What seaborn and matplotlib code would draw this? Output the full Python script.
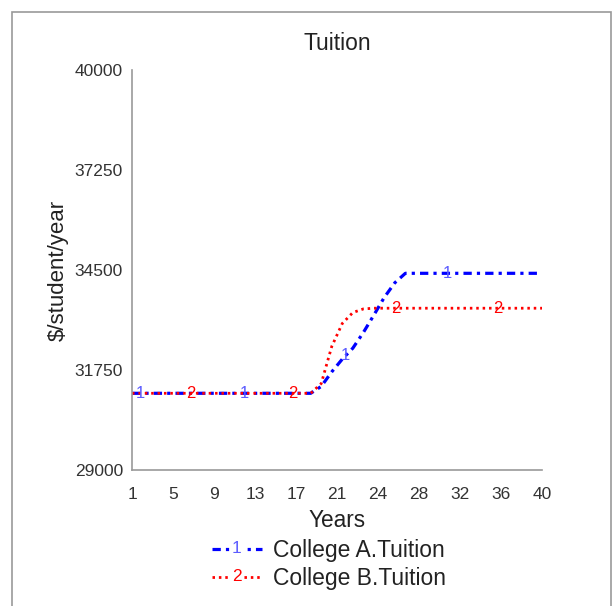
"""Tuition comparison of two colleges."""
import numpy as np
import pandas as pd
import matplotlib
matplotlib.use('Agg')
import matplotlib.pyplot as plt
from matplotlib.lines import Line2D
from matplotlib.patches import Rectangle
from matplotlib.text import Text
from matplotlib.legend_handler import HandlerLine2D
import seaborn as sns

years = list(range(1, 41))
college_a = [31110] * 18 + [31300, 31700, 32050, 32350, 32780, 33260, 33750,
                            34150, 34410] + [34410] * 13
college_b = [31110] * 18 + [31380, 32400, 33030, 33330, 33430, 33450] + [33450] * 16
a_label_years = [1.8, 11.7, 21.3, 31.0]
b_label_years = [6.6, 16.3, 26.1, 35.8]
x_ticks = np.linspace(1, 40, 11)
x_tick_labels = ['1', '5', '9', '13', '17', '21', '24', '28', '32', '36', '40']
y_ticks = [29000, 31750, 34500, 37250, 40000]

sns.set_theme(style='white')
plt.rcParams['font.family'] = ['Liberation Sans', 'DejaVu Sans']

df = pd.DataFrame({'year': years, 'a': college_a, 'b': college_b})

fig = plt.figure(figsize=(6.12, 6.06), dpi=100)
ax = fig.add_axes([0.2157, 0.2244, 0.67, 0.66])

blue, red = '#0000ff', '#ff0000'
ls_a = (0, (2.6, 1.6, 1.0, 1.6))
ls_b = (0, (0.9, 1.4))
sns.lineplot(data=df, x='year', y='a', color=blue, linewidth=2.3,
             linestyle=ls_a, ax=ax)
sns.lineplot(data=df, x='year', y='b', color=red, linewidth=2.0,
             linestyle=ls_b, ax=ax)

for yr in a_label_years:
    ax.text(yr, np.interp(yr, years, college_a), '1', color='#5c5cff',
            fontsize=12, ha='center', va='center')
for yr in b_label_years:
    ax.text(yr, np.interp(yr, years, college_b), '2', color=red,
            fontsize=12, ha='center', va='center')

ax.set_xlim(1, 40)
ax.set_ylim(29000, 40000)
ax.set_xticks(x_ticks)
ax.set_xticklabels(x_tick_labels)
ax.set_yticks(y_ticks)
ax.tick_params(axis='both', length=0, labelsize=12.5, colors='#333333')
ax.tick_params(axis='x', pad=12)
ax.tick_params(axis='y', pad=6.5)
for s in ['top', 'right']:
    ax.spines[s].set_visible(False)
for s in ['left', 'bottom']:
    ax.spines[s].set_color('#999999')
    ax.spines[s].set_linewidth(1.2)

ax.set_title('Tuition', fontsize=16.5, color='#222222', pad=14.4)
ax.set_xlabel('Years', fontsize=16.3, color='#222222', labelpad=5)
ax.set_ylabel('$/student/year', fontsize=16, color='#222222', labelpad=4)


class DigitHandler(HandlerLine2D):
    def __init__(self, digit, color, **kw):
        super().__init__(**kw)
        self.digit = digit
        self.color = color

    def create_artists(self, legend, orig_handle, xdescent, ydescent,
                       width, height, fontsize, trans):
        arts = super().create_artists(legend, orig_handle, xdescent, ydescent,
                                      width, height, fontsize, trans)
        t = Text(width / 2 - xdescent, height / 2 - ydescent, self.digit,
                 color=self.color, ha='center', va='center',
                 fontsize=fontsize * 0.75, transform=trans,
                 bbox=dict(fc='white', ec='none', pad=1))
        return list(arts) + [t]


h_a = Line2D([], [], color=blue, linewidth=2.3, linestyle=ls_a)
h_b = Line2D([], [], color=red, linewidth=2.0, linestyle=ls_b)
leg = fig.legend([h_a, h_b], ['College A.Tuition', 'College B.Tuition'],
                 loc='upper center', bbox_to_anchor=(0.537, 1 - 539 / 606),
                 frameon=False, fontsize=16.5, handlelength=2.2,
                 handletextpad=0.45, labelspacing=0.2, borderaxespad=0,
                 borderpad=0,
                 handler_map={h_a: DigitHandler('1', '#5c5cff'),
                              h_b: DigitHandler('2', red)})
for t in leg.get_texts():
    t.set_color('#222222')

fig.patches.append(Rectangle((12 / 612, -0.05), 599 / 612, 1 - 12 / 606 + 0.05,
                             transform=fig.transFigure, fill=False,
                             edgecolor='#999999', linewidth=1.2))

plt.savefig('out.png', dpi=100)
